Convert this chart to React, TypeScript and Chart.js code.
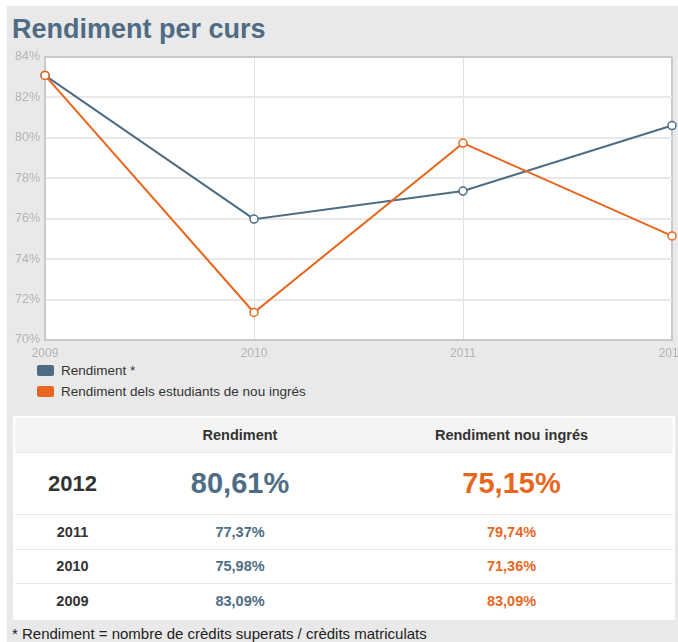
import React, { useEffect, useRef } from "react";
import { Chart, registerables } from "chart.js";

Chart.register(...registerables);

const years = ["2009", "2010", "2011", "2012"];
const rendiment = [83.09, 75.98, 77.37, 80.61];
const nouIngres = [83.09, 71.36, 79.74, 75.15];
const seriesLabels = ["Rendiment *", "Rendiment dels estudiants de nou ingrés"];
const tableHeaders = ["", "Rendiment", "Rendiment nou ingrés"];
const title = "Rendiment per curs";
const footnote = "* Rendiment = nombre de crèdits superats / crèdits matriculats";

const BLUE = "#4e6d85";
const ORANGE = "#e8671f";
const FONT = "'Liberation Sans', Arial, Helvetica, sans-serif";

const fmt = (v: number) => v.toFixed(2).replace(".", ",") + "%";

const whiteArea = {
  id: "whiteArea",
  beforeDraw(chart: any) {
    const { ctx, chartArea } = chart;
    if (!chartArea) return;
    ctx.save();
    ctx.fillStyle = "#ffffff";
    ctx.fillRect(chartArea.left, chartArea.top, chartArea.right - chartArea.left, chartArea.bottom - chartArea.top);
    ctx.restore();
  },
};

function LineChart() {
  const ref = useRef<HTMLCanvasElement | null>(null);
  useEffect(() => {
    if (!ref.current) return;
    const chart = new Chart(ref.current, {
      type: "line",
      data: {
        labels: years,
        datasets: [
          {
            label: seriesLabels[0],
            data: rendiment,
            borderColor: BLUE,
            backgroundColor: "#ffffff",
            borderWidth: 2,
            pointRadius: 4,
            pointBorderWidth: 1.5,
            pointBackgroundColor: "#ffffff",
            pointBorderColor: BLUE,
            tension: 0,
            order: 1,
          },
          {
            label: seriesLabels[1],
            data: nouIngres,
            borderColor: ORANGE,
            backgroundColor: "#ffffff",
            borderWidth: 2,
            pointRadius: 4,
            pointBorderWidth: 1.5,
            pointBackgroundColor: "#ffffff",
            pointBorderColor: ORANGE,
            tension: 0,
            order: 0,
          },
        ],
      },
      plugins: [whiteArea],
      options: {
        animation: false,
        responsive: false,
        maintainAspectRatio: false,
        layout: { padding: { top: 9, right: 6, left: 0, bottom: 0 } },
        plugins: {
          legend: { display: false },
          tooltip: { enabled: false },
          title: { display: false },
        },
        scales: {
          x: {
            offset: false,
            grid: {
              color: (c: any) => (c.index === years.length - 1 ? "#c9c9c9" : "#e0e0e0"),
              lineWidth: (c: any) => (c.index === years.length - 1 ? 2 : 1),
              drawTicks: false,
            },
            border: { display: true, color: "#c9c9c9", width: 2 },
            ticks: {
              color: "#b3b3b3",
              font: { family: FONT, size: 12 },
              padding: 6,
              maxRotation: 0,
              autoSkip: false,
            },
            afterFit: (s: any) => {
              s.height = 20;
              s.paddingLeft = 0;
              s.paddingRight = 0;
            },
          },
          y: {
            min: 70,
            max: 84,
            ticks: {
              stepSize: 2,
              color: "#b3b3b3",
              font: { family: FONT, size: 12.5 },
              padding: 5,
              callback: (v: any) => v + "%",
            },
            grid: {
              color: (c: any) => (c.tick && c.tick.value === 84 ? "#c9c9c9" : "#e8e8e8"),
              lineWidth: 2,
              drawTicks: false,
            },
            border: { display: true, color: "#c9c9c9", width: 2 },
            afterFit: (s: any) => {
              s.width = 45;
              s.paddingTop = 0;
              s.paddingBottom = 0;
            },
          },
        },
      },
    });
    return () => chart.destroy();
  }, []);
  return (
    <canvas
      ref={ref}
      width={678}
      height={312}
      style={{ position: "absolute", left: 0, top: 48, width: 678, height: 312 }}
    />
  );
}

export default function App() {
  const colColors = ["#333333", BLUE, ORANGE];
  const colWidths = [115, 220, 323];
  const latest = years.length - 1;
  const rows = years.map((_, i) => i).reverse();
  const cell = (w: number, extra: React.CSSProperties = {}): React.CSSProperties => ({
    width: w,
    textAlign: "center",
    display: "flex",
    alignItems: "center",
    justifyContent: "center",
    whiteSpace: "nowrap",
    ...extra,
  });
  return (
    <div
      style={{
        position: "absolute",
        left: 0,
        top: 0,
        width: 678,
        height: 642,
        background: "#ffffff",
        overflow: "hidden",
        fontFamily: FONT,
      }}
    >
      <div style={{ position: "absolute", left: 7, top: 6, right: 0, bottom: 0, background: "#e9e9e9" }} />
      <div
        style={{
          position: "absolute",
          left: 12,
          top: 14,
          fontSize: 27,
          fontWeight: "bold",
          color: "#4f6c84",
          whiteSpace: "nowrap",
        }}
      >
        {title}
      </div>
      <LineChart />
      {seriesLabels.map((l, i) => (
        <div
          key={l}
          style={{ position: "absolute", left: 37, top: 362 + i * 21, height: 16, display: "flex", alignItems: "center" }}
        >
          <div
            style={{
              width: 17,
              height: 11,
              borderRadius: 2,
              background: i === 0 ? BLUE : ORANGE,
              marginRight: 7,
            }}
          />
          <span style={{ fontSize: 13.5, color: "#333", whiteSpace: "nowrap" }}>{l}</span>
        </div>
      ))}
      <div
        style={{
          position: "absolute",
          left: 13,
          top: 416,
          width: 662,
          height: 204,
          background: "#ffffff",
        }}
      >
        <div
          style={{
            position: "absolute",
            left: 2,
            top: 2,
            width: 658,
            height: 34,
            background: "#f4f4f4",
            borderBottom: "1px solid #dfe7ee",
            display: "flex",
          }}
        >
          {tableHeaders.map((h, i) => (
            <div key={i} style={cell(colWidths[i], { fontSize: 14.5, fontWeight: "bold", color: "#333" })}>
              {h}
            </div>
          ))}
        </div>
        {rows.map((i, r) => {
          const big = i === latest;
          const top = big ? 37 : 99 + (r - 1) * 34.5;
          const h = big ? 62 : 34.5;
          return (
            <div
              key={years[i]}
              style={{
                position: "absolute",
                left: 2,
                top,
                width: 658,
                height: h,
                display: "flex",
                borderBottom: r < rows.length - 1 ? "1px solid #e3e9ee" : "none",
                boxSizing: "border-box",
              }}
            >
              {[years[i], fmt(rendiment[i]), fmt(nouIngres[i])].map((t, c) => (
                <div
                  key={c}
                  style={cell(colWidths[c], {
                    fontSize: big ? (c === 0 ? 22 : 29) : 14.5,
                    fontWeight: "bold",
                    color: colColors[c],
                  })}
                >
                  {t}
                </div>
              ))}
            </div>
          );
        })}
      </div>
      <div
        style={{
          position: "absolute",
          left: 12,
          top: 625,
          fontSize: 15,
          color: "#222",
          whiteSpace: "nowrap",
        }}
      >
        {footnote}
      </div>
    </div>
  );
}
